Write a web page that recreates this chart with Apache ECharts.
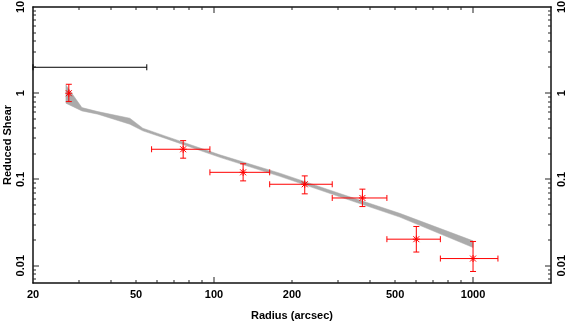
<!DOCTYPE html>
<html><head><meta charset="utf-8">
<script src="https://cdn.jsdelivr.net/npm/echarts@6/dist/echarts.min.js"></script>
<style>html,body{margin:0;padding:0;background:#fff}#c{width:566px;height:323px}</style>
</head><body><div id="c"></div>
<script>
// ---- data ----
const radius   = [27.5, 76.0, 129.5, 224, 374, 604, 1000];
const shear    = [1.0, 0.224, 0.121, 0.088, 0.061, 0.0203, 0.0121];
const radiusLo = [27.5, 57.4, 96.4, 164, 286, 465, 748];
const radiusHi = [27.5, 96.4, 164, 286, 465, 748, 1248];
const shearLo  = [0.80, 0.1765, 0.0963, 0.0681, 0.0485, 0.0144, 0.00857];
const shearHi  = [1.27, 0.282, 0.152, 0.110, 0.0772, 0.0285, 0.0191];

const modelR  = [26.8, 30.9, 35.6, 47.3, 53.1, 64.6, 105.3, 179.5, 305.8, 521.2, 1000];
const modelHi = [1.248, 0.681, 0.612, 0.513, 0.393, 0.320, 0.1932, 0.1183, 0.0688, 0.0405, 0.01943];
const modelLo = [0.766, 0.624, 0.571, 0.437, 0.366, 0.301, 0.1804, 0.1086, 0.0629, 0.0366, 0.01625];

const refR = [20, 55];
const refShear = 2;

const xTickLabels = [20, 50, 100, 200, 500, 1000];
const xMajorTicks = [100, 1000];
const xMinorTicks = [30, 40, 50, 60, 70, 80, 90, 200, 300, 400, 500, 600, 700, 800, 900];
const yTickLabels = [0.01, 0.1, 1, 10];
const yMajorTicks = [0.01, 0.1, 1];
const yMinorTicks = [0.007, 0.008, 0.009,
  0.02, 0.03, 0.04, 0.05, 0.06, 0.07, 0.08, 0.09,
  0.2, 0.3, 0.4, 0.5, 0.6, 0.7, 0.8, 0.9,
  2, 3, 4, 5, 6, 7, 8, 9];

const X_MIN = 20, X_MAX = 2000, Y_MIN = 0.0063, Y_MAX = 10;

// ---- styling ----
const FONT = 'Liberation Sans, Arial, Helvetica, sans-serif';
const txt = { fontFamily: FONT, fontWeight: 'bold', fontSize: 11, color: '#000' };
const AXIS_COLOR = '#111';
const TICK_COLOR = '#222';
const W = 566, H = 323;
const GRID = { left: 33, right: 15, top: 7, bottom: 40 };
const fmt = v => String(+(+v).toPrecision(6));

const option = {
  animation: false,
  backgroundColor: '#fff',
  grid: Object.assign({ containLabel: false, outerBoundsMode: 'none' }, GRID),
  xAxis: [
    {
      type: 'log', min: X_MIN, max: X_MAX, position: 'bottom',
      axisLine: { show: true, lineStyle: { color: AXIS_COLOR, width: 1.5 } },
      axisTick: { show: false },
      axisLabel: Object.assign({ show: true, customValues: xTickLabels, margin: 6, formatter: fmt,
        alignMinLabel: 'center', alignMaxLabel: 'center', hideOverlap: false }, txt),
      splitLine: { show: false },
      name: 'Radius (arcsec)', nameLocation: 'middle', nameGap: 27, nameMoveOverlap: false,
      nameTextStyle: Object.assign({}, txt)
    },
    {
      type: 'log', min: X_MIN, max: X_MAX, position: 'top',
      axisLine: { show: true, lineStyle: { color: AXIS_COLOR, width: 1.5 } },
      axisTick: { show: false }, axisLabel: { show: false }, splitLine: { show: false }
    }
  ],
  yAxis: [
    {
      type: 'log', min: Y_MIN, max: Y_MAX, position: 'left',
      axisLine: { show: true, lineStyle: { color: AXIS_COLOR, width: 1.5 } },
      axisTick: { show: false },
      axisLabel: Object.assign({ show: true, customValues: yTickLabels, rotate: 90, margin: 7, formatter: fmt,
        alignMinLabel: 'center', alignMaxLabel: 'center', hideOverlap: false }, txt),
      splitLine: { show: false },
      name: 'Reduced Shear', nameLocation: 'middle', nameGap: 20, nameRotate: 90, nameMoveOverlap: false,
      nameTextStyle: Object.assign({}, txt)
    },
    {
      type: 'log', min: Y_MIN, max: Y_MAX, position: 'right',
      axisLine: { show: true, lineStyle: { color: AXIS_COLOR, width: 1.5 } },
      axisTick: { show: false },
      axisLabel: Object.assign({ show: true, customValues: yTickLabels, rotate: 90, margin: 5, formatter: fmt,
        alignMinLabel: 'center', alignMaxLabel: 'center', hideOverlap: false }, txt),
      splitLine: { show: false }
    }
  ],
  series: []
};

// model band
option.series.push({
  type: 'custom', xAxisIndex: 0, yAxisIndex: 0, silent: true, z: 2,
  encode: { x: 0, y: [1, 2] },
  data: modelR.map((r, i) => [r, modelHi[i], modelLo[i]]),
  renderItem: function (params, api) {
    if (params.dataIndex !== 0) return { type: 'group', children: [] };
    const pts = [];
    for (let i = 0; i < modelR.length; i++) pts.push(api.coord([modelR[i], modelHi[i]]));
    for (let i = modelR.length - 1; i >= 0; i--) pts.push(api.coord([modelR[i], modelLo[i]]));
    return { type: 'polygon', shape: { points: pts }, silent: true,
      style: { fill: '#ababab', stroke: '#ababab', lineWidth: 0.5 } };
  }
});

// tick marks: drawn as thin filled rectangles (one item per tick), placed through the axis scales
function xTickSeries(ticks, len) {
  return {
    type: 'custom', xAxisIndex: 0, yAxisIndex: 0, silent: true, z: 6,
    encode: { x: 0, y: 1 },
    data: ticks.map(v => [v, 1]),
    renderItem: function (params, api) {
      const p = Math.round(api.coord([api.value(0), 1])[0]);
      const yb = H - GRID.bottom, yt = GRID.top;
      return { type: 'group', children: [
        { type: 'rect', shape: { x: p - 0.5, y: yb - len, width: 1, height: len }, style: { fill: TICK_COLOR }, silent: true },
        { type: 'rect', shape: { x: p - 0.5, y: yt, width: 1, height: len }, style: { fill: TICK_COLOR }, silent: true }
      ] };
    }
  };
}
function yTickSeries(ticks, len) {
  return {
    type: 'custom', xAxisIndex: 0, yAxisIndex: 0, silent: true, z: 6,
    encode: { x: 0, y: 1 },
    data: ticks.map(v => [100, v]),
    renderItem: function (params, api) {
      const p = Math.round(api.coord([100, api.value(1)])[1]);
      const xl = GRID.left, xr = W - GRID.right;
      return { type: 'group', children: [
        { type: 'rect', shape: { x: xl, y: p - 0.5, width: len, height: 1 }, style: { fill: TICK_COLOR }, silent: true },
        { type: 'rect', shape: { x: xr - len, y: p - 0.5, width: len, height: 1 }, style: { fill: TICK_COLOR }, silent: true }
      ] };
    }
  };
}
option.series.push(xTickSeries(xMajorTicks, 6));
option.series.push(xTickSeries(xMinorTicks, 3));
option.series.push(yTickSeries(yMajorTicks, 6));
option.series.push(yTickSeries(yMinorTicks, 3));

// error bars
function errRenderer(color, star, cap) {
  return function (params, api) {
    const x = api.value(0), y = api.value(1);
    const c = api.coord([x, y]);
    const l = api.coord([api.value(2), y]);
    const r = api.coord([api.value(3), y]);
    const b = api.coord([x, api.value(4)]);
    const t = api.coord([x, api.value(5)]);
    const st = { stroke: color, lineWidth: 1, fill: null };
    const ln = (x1, y1, x2, y2) => ({ type: 'line', shape: { x1, y1, x2, y2 }, style: st, silent: true });
    const ch = [];
    if (r[0] - l[0] > 1) {
      ch.push(ln(l[0], c[1], r[0], c[1]));
      ch.push(ln(l[0], c[1] - cap, l[0], c[1] + cap));
      ch.push(ln(r[0], c[1] - cap, r[0], c[1] + cap));
    }
    if (b[1] - t[1] > 1) {
      ch.push(ln(c[0], t[1], c[0], b[1]));
      ch.push(ln(c[0] - cap, t[1], c[0] + cap, t[1]));
      ch.push(ln(c[0] - cap, b[1], c[0] + cap, b[1]));
    }
    if (star) {
      const s = 3;
      ch.push(ln(c[0] - s, c[1] - s, c[0] + s, c[1] + s));
      ch.push(ln(c[0] - s, c[1] + s, c[0] + s, c[1] - s));
      ch.push(ln(c[0] - s - 0.5, c[1], c[0] + s + 0.5, c[1]));
      ch.push(ln(c[0], c[1] - s - 0.5, c[0], c[1] + s + 0.5));
    }
    return { type: 'group', children: ch };
  };
}
option.series.push({
  type: 'custom', xAxisIndex: 0, yAxisIndex: 0, silent: true, z: 3,
  encode: { x: [0, 2, 3], y: [1, 4, 5] },
  data: [[refR[0], refShear, refR[0], refR[1], refShear, refShear]],
  renderItem: errRenderer('#000', false, 3)
});
option.series.push({
  type: 'custom', xAxisIndex: 0, yAxisIndex: 0, silent: true, z: 4,
  encode: { x: [0, 2, 3], y: [1, 4, 5] },
  data: radius.map((r, i) => [r, shear[i], radiusLo[i], radiusHi[i], shearLo[i], shearHi[i]]),
  renderItem: errRenderer('#ff0000', true, 3)
});

const chart = echarts.init(document.getElementById('c'), null, { renderer: 'canvas' });
chart.setOption(option);
</script>
</body></html>
